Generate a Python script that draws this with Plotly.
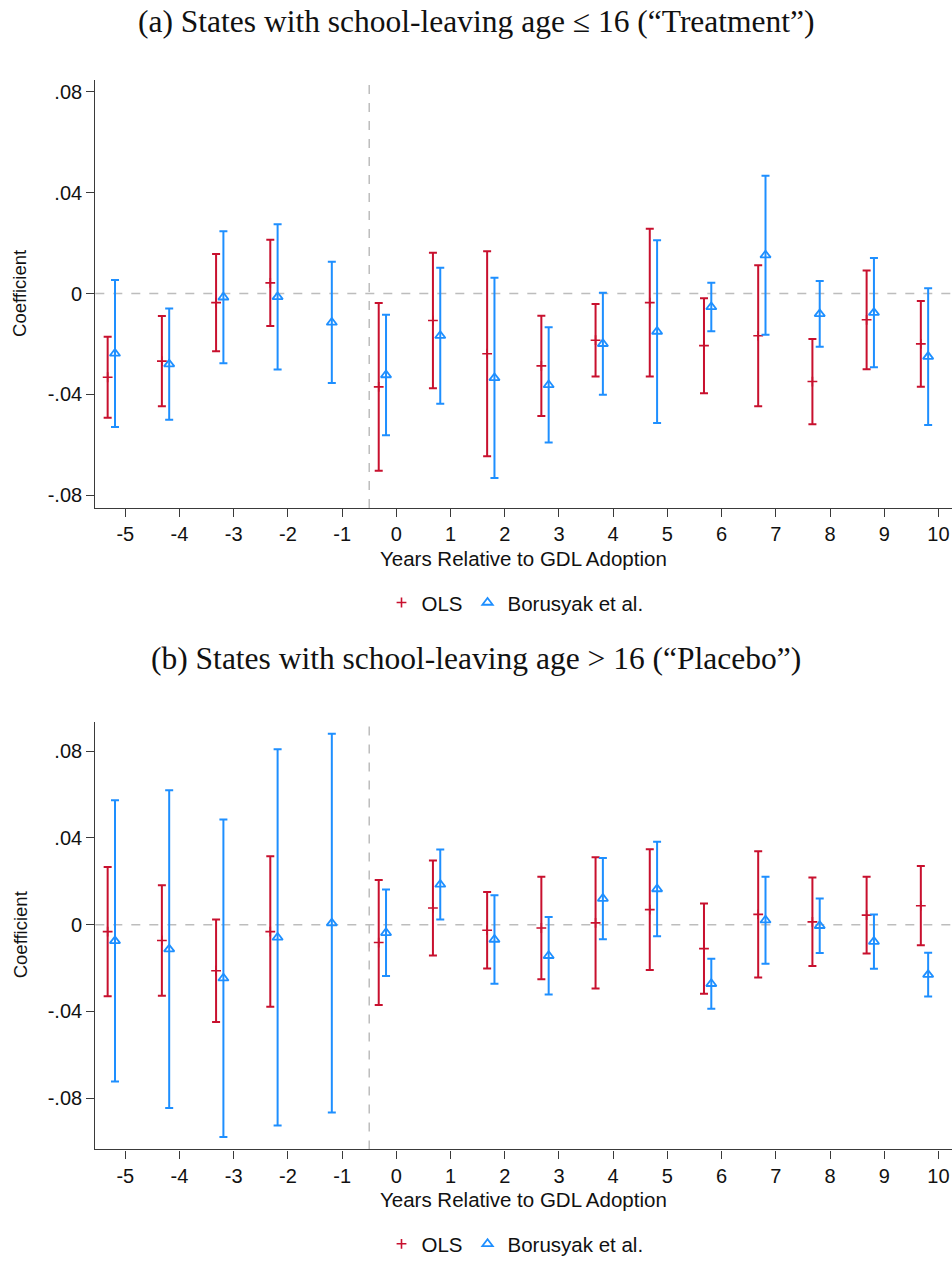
import plotly.graph_objects as go

# ---------------- data ----------------
years = [-5, -4, -3, -2, -1, 0, 1, 2, 3, 4, 5, 6, 7, 8, 9, 10]
xtick_labels = [str(v) for v in years]
ytick_vals = [0.08, 0.04, 0, -0.04, -0.08]
ytick_text = [".08", ".04", "0", "-.04", "-.08"]

# Panel (a): Treatment  (None = not estimated)
a_ols_lo = [-0.0493, -0.0447, -0.0229, -0.0129, None, -0.0703, -0.0376, -0.0645, -0.0486, -0.0329, -0.0329, -0.0395, -0.0447, -0.0518, -0.0300, -0.0370]
a_ols_hi = [-0.0171, -0.0089, 0.0157, 0.0214, None, -0.0037, 0.0162, 0.0168, -0.0088, -0.0041, 0.0257, -0.0018, 0.0112, -0.0180, 0.0092, -0.0029]
a_bor_lo = [-0.0529, -0.0501, -0.0276, -0.0301, -0.0355, -0.0562, -0.0437, -0.0732, -0.0591, -0.0401, -0.0513, -0.0149, -0.0163, -0.0211, -0.0292, -0.0521]
a_bor_hi = [0.0054, -0.0059, 0.0247, 0.0275, 0.0126, -0.0084, 0.0103, 0.0063, -0.0134, 0.0003, 0.0212, 0.0043, 0.0468, 0.0050, 0.0141, 0.0021]

# Panel (b): Placebo
b_ols_lo = [-0.0330, -0.0328, -0.0449, -0.0379, None, -0.0371, -0.0142, -0.0202, -0.0252, -0.0295, -0.0209, -0.0319, -0.0244, -0.0191, -0.0133, -0.0095]
b_ols_hi = [0.0266, 0.0182, 0.0024, 0.0315, None, 0.0206, 0.0296, 0.0151, 0.0221, 0.0311, 0.0348, 0.0098, 0.0339, 0.0217, 0.0221, 0.0270]
b_bor_lo = [-0.0724, -0.0846, -0.0979, -0.0927, -0.0867, -0.0237, 0.0024, -0.0273, -0.0322, -0.0067, -0.0053, -0.0388, -0.0180, -0.0131, -0.0203, -0.0331]
b_bor_hi = [0.0574, 0.0620, 0.0485, 0.0809, 0.0881, 0.0162, 0.0347, 0.0136, 0.0035, 0.0308, 0.0382, -0.0157, 0.0221, 0.0121, 0.0047, -0.0130]

series_names = ["OLS", "Borusyak et al."]
titles = ['(a) States with school-leaving age \u2264 16 (\u201cTreatment\u201d)',
          '(b) States with school-leaving age > 16 (\u201cPlacebo\u201d)']
xlabel = "Years Relative to GDL Adoption"
ylabel = "Coefficient"

# ---------------- style ----------------
RED = "#C8102E"
BLUE = "#1E8FFF"
GREY = "#BDBDBD"
AX = "#3a3a3a"
SANS = "Liberation Sans, Arial, Helvetica, sans-serif"
SERIF = "Liberation Serif, Times New Roman, serif"
W, H = 952, 1264
OLS_OFF, BOR_OFF = -0.325, -0.19


def py(px):
    return 1 - px / H


def mid_err(lo, hi, off):
    xs, ys, up, dn = [], [], [], []
    for yr, l, h in zip(years, lo, hi):
        if l is None:
            continue
        m = (l + h) / 2
        xs.append(yr + off)
        ys.append(m)
        up.append(h - m)
        dn.append(m - l)
    return xs, ys, up, dn


fig = go.Figure()

panels = [
    dict(ols=(a_ols_lo, a_ols_hi), bor=(a_bor_lo, a_bor_hi), xa="x", ya="y",
         dom=(py(511.7), py(80.7)), yr=[-0.0851, 0.0847], legend="legend"),
    dict(ols=(b_ols_lo, b_ols_hi), bor=(b_bor_lo, b_bor_hi), xa="x2", ya="y2",
         dom=(py(1157.7), py(726.7)), yr=[-0.1037, 0.0937], legend="legend2"),
]

for i, p in enumerate(panels):
    xs, ys, up, dn = mid_err(*p["ols"], OLS_OFF)
    fig.add_trace(go.Scatter(
        x=xs, y=ys, mode="markers", name=series_names[0], xaxis=p["xa"], yaxis=p["ya"],
        legend=p["legend"],
        marker=dict(symbol="cross-thin", size=7, color=RED, line=dict(color=RED, width=1.6)),
        error_y=dict(type="data", symmetric=False, array=up, arrayminus=dn,
                     color=RED, thickness=2, width=4)))
    xs, ys, up, dn = mid_err(*p["bor"], BOR_OFF)
    fig.add_trace(go.Scatter(
        x=xs, y=ys, mode="markers", name=series_names[1], xaxis=p["xa"], yaxis=p["ya"],
        legend=p["legend"],
        marker=dict(symbol="triangle-up-open", size=9, color=BLUE, line=dict(color=BLUE, width=1.8)),
        error_y=dict(type="data", symmetric=False, array=up, arrayminus=dn,
                     color=BLUE, thickness=2, width=4)))

xdom = [95.3 / W, 1.0]
xrange = [-5.553, 10.25]
axis_common = dict(showline=True, linecolor=AX, linewidth=1.3, ticks="outside",
                   ticklen=8, tickwidth=1.3, tickcolor=AX, showgrid=False, zeroline=False,
                   tickfont=dict(family=SANS, size=20, color="#111"))

for i, p in enumerate(panels):
    sfx = "" if i == 0 else "2"
    fig.update_layout(**{
        "xaxis" + sfx: dict(domain=xdom, range=xrange, anchor="y" + sfx,
                            tickvals=years, ticktext=xtick_labels, **axis_common),
        "yaxis" + sfx: dict(domain=list(p["dom"]), range=p["yr"], anchor="x" + sfx,
                            tickvals=ytick_vals, ticktext=ytick_text, **axis_common),
    })
    # reference lines
    fig.add_shape(type="line", xref="x" + sfx + " domain", yref="y" + sfx, x0=0, x1=1, y0=0, y1=0,
                  line=dict(color=GREY, width=1.5, dash="dash"), layer="below")
    fig.add_shape(type="line", xref="x" + sfx, yref="y" + sfx + " domain", x0=-0.5, x1=-0.5, y0=0, y1=1,
                  line=dict(color=GREY, width=1.5, dash="dash"), layer="below")

# titles and axis labels
title_y = [22, 663]
xlab_y = [563, 1208]
ylab_y = [296, 942]
for i in range(2):
    fig.add_annotation(text=titles[i], xref="paper", yref="paper", x=0.5, y=py(title_y[i]),
                       showarrow=False, font=dict(family=SERIF, size=31.5, color="#111"),
                       xanchor="center", yanchor="middle")
    fig.add_annotation(text=xlabel, xref="paper", yref="paper", x=523.5 / W, y=py(xlab_y[i]),
                       showarrow=False, font=dict(family=SANS, size=20.5, color="#111"),
                       xanchor="center", yanchor="middle")
    fig.add_annotation(text=ylabel, xref="paper", yref="paper", x=20 / W, y=py(ylab_y[i]),
                       showarrow=False, textangle=-90, font=dict(family=SANS, size=18.5, color="#111"),
                       xanchor="center", yanchor="middle")

leg_common = dict(orientation="h", xanchor="center", yanchor="middle", x=515 / W,
                  font=dict(family=SANS, size=20.5, color="#111"), bgcolor="rgba(0,0,0,0)",
                  itemwidth=30, tracegroupgap=0)
fig.update_layout(
    width=W, height=H, margin=dict(l=0, r=0, t=0, b=0),
    paper_bgcolor="white", plot_bgcolor="white",
    legend=dict(y=py(607), **leg_common),
    legend2=dict(y=py(1253), **leg_common),
    showlegend=True,
)

fig.write_html("out.html", config={"displayModeBar": False},
               post_script="document.body.style.margin='0';document.body.style.overflow='hidden';")
